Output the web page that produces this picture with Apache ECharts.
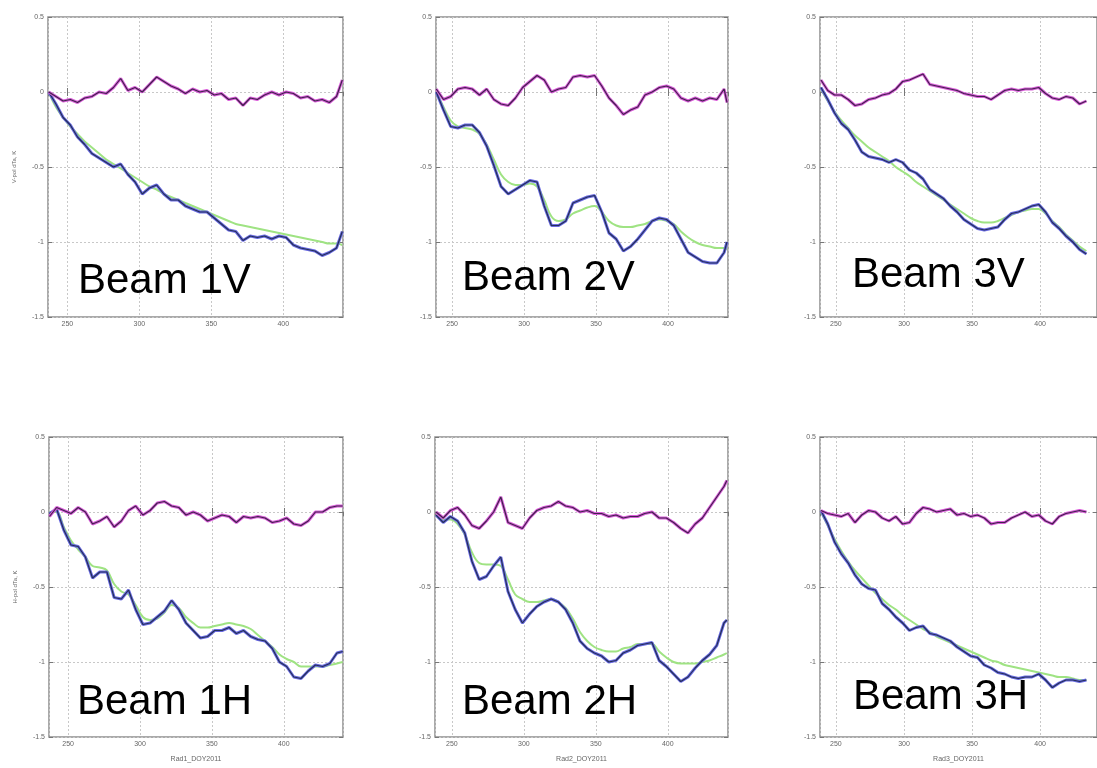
<!DOCTYPE html>
<html>
<head>
<meta charset="utf-8">
<title>Beam dTa</title>
<script src="https://cdn.jsdelivr.net/npm/echarts@6/dist/echarts.min.js"></script>
<style>
  html, body { margin: 0; padding: 0; background: #fff; }
  #chart { width: 1097px; height: 768px; }
</style>
</head>
<body>
<div id="chart"></div>
<script>
// days of year 2011 for each radiometer
const rad1Days = [237,242,247,252,257,262,267,272,277,282,287,292,297,302,307,312,317,322,327,332,337,342,347,352,357,362,367,372,377,382,387,392,397,402,407,412,417,422,427,432,437,441];
const rad2Days = [239,244,249,254,259,264,269,274,279,284,289,294,299,304,309,314,319,324,329,334,339,344,349,354,359,364,369,374,379,384,389,394,399,404,409,414,419,424,429,434,439,441];
const rad3Days = [239,244,249,254,259,264,269,274,279,284,289,294,299,304,309,314,319,324,329,334,339,344,349,354,359,364,369,374,379,384,389,394,399,404,409,414,419,424,429,434];

// residual (near zero), measured drift, fitted drift
const beam1VResid = [0.0,-0.03,-0.06,-0.05,-0.07,-0.04,-0.03,0.0,-0.01,0.03,0.09,0.01,0.03,0.0,0.05,0.1,0.07,0.04,0.02,-0.01,0.02,0.0,0.01,-0.02,-0.01,-0.05,-0.04,-0.09,-0.04,-0.05,-0.02,0.0,-0.02,0.0,-0.01,-0.04,-0.03,-0.06,-0.05,-0.07,-0.03,0.08];
const beam1VObs = [0.0,-0.08,-0.17,-0.22,-0.3,-0.35,-0.41,-0.44,-0.47,-0.5,-0.48,-0.55,-0.6,-0.68,-0.64,-0.62,-0.68,-0.72,-0.72,-0.76,-0.78,-0.8,-0.8,-0.84,-0.88,-0.92,-0.93,-0.99,-0.96,-0.97,-0.96,-0.98,-0.96,-0.97,-1.02,-1.04,-1.05,-1.06,-1.09,-1.07,-1.04,-0.93];
const beam1VFit = [0.0,-0.1,-0.17,-0.23,-0.28,-0.33,-0.37,-0.41,-0.45,-0.48,-0.51,-0.54,-0.57,-0.6,-0.63,-0.65,-0.68,-0.7,-0.72,-0.74,-0.76,-0.78,-0.8,-0.82,-0.84,-0.86,-0.88,-0.89,-0.9,-0.91,-0.92,-0.93,-0.94,-0.95,-0.96,-0.97,-0.98,-0.99,-1.0,-1.01,-1.01,-1.02];

const beam2VResid = [0.02,-0.05,-0.03,0.02,0.03,0.02,-0.02,0.02,-0.05,-0.08,-0.09,-0.04,0.03,0.07,0.11,0.08,0.0,0.02,0.03,0.1,0.11,0.1,0.11,0.04,-0.04,-0.09,-0.15,-0.12,-0.1,-0.02,0.0,0.03,0.04,0.02,-0.04,-0.06,-0.04,-0.06,-0.04,-0.05,0.02,-0.07];
const beam2VObs = [0.0,-0.12,-0.23,-0.24,-0.22,-0.22,-0.27,-0.36,-0.49,-0.63,-0.68,-0.65,-0.62,-0.59,-0.6,-0.76,-0.89,-0.89,-0.86,-0.74,-0.72,-0.7,-0.69,-0.8,-0.94,-0.98,-1.06,-1.03,-0.98,-0.92,-0.86,-0.84,-0.85,-0.89,-0.98,-1.07,-1.1,-1.13,-1.14,-1.14,-1.07,-1.0];
const beam2VFit = [0.0,-0.1,-0.19,-0.23,-0.24,-0.25,-0.28,-0.35,-0.45,-0.55,-0.6,-0.62,-0.62,-0.61,-0.63,-0.72,-0.83,-0.86,-0.85,-0.81,-0.79,-0.77,-0.76,-0.8,-0.86,-0.89,-0.9,-0.9,-0.89,-0.88,-0.86,-0.85,-0.86,-0.88,-0.93,-0.97,-1.0,-1.02,-1.03,-1.04,-1.04,-1.05];

const beam3VResid = [0.08,0.01,-0.02,-0.02,-0.05,-0.09,-0.08,-0.05,-0.04,-0.02,-0.01,0.02,0.07,0.08,0.1,0.12,0.05,0.04,0.03,0.02,0.01,-0.01,-0.02,-0.03,-0.03,-0.05,-0.02,0.01,0.02,0.01,0.02,0.02,0.03,-0.01,-0.04,-0.05,-0.03,-0.04,-0.08,-0.06];
const beam3VObs = [0.03,-0.05,-0.14,-0.21,-0.25,-0.32,-0.4,-0.43,-0.44,-0.45,-0.47,-0.45,-0.47,-0.52,-0.54,-0.58,-0.65,-0.68,-0.71,-0.76,-0.8,-0.85,-0.88,-0.91,-0.92,-0.91,-0.9,-0.85,-0.81,-0.8,-0.78,-0.76,-0.75,-0.8,-0.87,-0.91,-0.96,-1.0,-1.05,-1.08];
const beam3VFit = [0.02,-0.06,-0.13,-0.19,-0.24,-0.29,-0.33,-0.37,-0.4,-0.43,-0.46,-0.5,-0.53,-0.56,-0.6,-0.63,-0.66,-0.69,-0.72,-0.75,-0.78,-0.81,-0.84,-0.86,-0.87,-0.87,-0.86,-0.84,-0.82,-0.8,-0.79,-0.78,-0.78,-0.81,-0.86,-0.9,-0.95,-0.99,-1.03,-1.06];

const beam1HResid = [-0.03,0.03,0.01,-0.01,0.03,0.0,-0.08,-0.06,-0.03,-0.1,-0.06,0.01,0.04,-0.02,0.01,0.06,0.07,0.04,0.03,-0.02,0.0,-0.02,-0.06,-0.04,-0.02,-0.03,-0.07,-0.03,-0.04,-0.03,-0.04,-0.07,-0.06,-0.04,-0.08,-0.09,-0.06,0.0,0.0,0.03,0.04,0.04];
const beam1HObs = [-0.01,0.02,-0.12,-0.22,-0.23,-0.3,-0.44,-0.4,-0.4,-0.57,-0.58,-0.52,-0.65,-0.75,-0.74,-0.7,-0.66,-0.59,-0.65,-0.74,-0.79,-0.84,-0.83,-0.79,-0.79,-0.77,-0.81,-0.79,-0.83,-0.85,-0.86,-0.91,-1.0,-1.03,-1.1,-1.11,-1.06,-1.02,-1.03,-1.01,-0.94,-0.93];
const beam1HFit = [0.0,0.0,-0.1,-0.19,-0.25,-0.3,-0.36,-0.37,-0.39,-0.48,-0.53,-0.55,-0.62,-0.7,-0.72,-0.71,-0.67,-0.62,-0.64,-0.7,-0.74,-0.77,-0.77,-0.76,-0.75,-0.74,-0.75,-0.76,-0.78,-0.82,-0.86,-0.9,-0.95,-0.98,-1.0,-1.03,-1.03,-1.03,-1.03,-1.02,-1.01,-1.0];

const beam2HResid = [0.0,-0.04,0.01,0.03,-0.02,-0.09,-0.11,-0.06,0.0,0.1,-0.07,-0.09,-0.11,-0.04,0.01,0.03,0.04,0.07,0.04,0.03,0.0,0.01,-0.01,-0.01,-0.03,-0.02,-0.04,-0.03,-0.03,-0.01,0.0,-0.04,-0.04,-0.07,-0.11,-0.14,-0.08,-0.04,0.03,0.1,0.17,0.21];
const beam2HObs = [-0.02,-0.07,-0.03,-0.06,-0.14,-0.33,-0.45,-0.43,-0.36,-0.3,-0.53,-0.65,-0.74,-0.68,-0.63,-0.6,-0.58,-0.6,-0.65,-0.74,-0.86,-0.91,-0.94,-0.96,-1.0,-0.99,-0.94,-0.92,-0.89,-0.88,-0.87,-0.99,-1.03,-1.08,-1.13,-1.1,-1.04,-0.99,-0.95,-0.89,-0.74,-0.72];
const beam2HFit = [-0.02,-0.05,-0.05,-0.08,-0.15,-0.27,-0.34,-0.35,-0.35,-0.36,-0.45,-0.55,-0.58,-0.6,-0.6,-0.59,-0.58,-0.6,-0.64,-0.71,-0.8,-0.86,-0.9,-0.92,-0.93,-0.93,-0.91,-0.9,-0.88,-0.88,-0.88,-0.93,-0.97,-1.0,-1.01,-1.01,-1.01,-1.0,-0.99,-0.97,-0.95,-0.94];

const beam3HResid = [0.01,-0.01,-0.02,-0.03,-0.01,-0.07,-0.02,0.01,0.0,-0.04,-0.06,-0.03,-0.08,-0.07,-0.01,0.03,0.02,0.0,0.01,0.02,-0.02,-0.01,-0.03,-0.02,-0.04,-0.08,-0.07,-0.07,-0.04,-0.02,0.0,-0.03,-0.02,-0.06,-0.08,-0.03,-0.01,0.0,0.01,0.0];
const beam3HObs = [0.01,-0.08,-0.2,-0.28,-0.34,-0.42,-0.48,-0.51,-0.52,-0.61,-0.65,-0.7,-0.74,-0.79,-0.77,-0.76,-0.81,-0.82,-0.84,-0.86,-0.9,-0.93,-0.96,-0.97,-1.02,-1.04,-1.07,-1.08,-1.1,-1.11,-1.1,-1.1,-1.08,-1.12,-1.17,-1.14,-1.12,-1.12,-1.13,-1.12];
const beam3HFit = [0.0,-0.09,-0.18,-0.26,-0.33,-0.39,-0.44,-0.49,-0.54,-0.58,-0.62,-0.65,-0.69,-0.72,-0.75,-0.78,-0.8,-0.83,-0.85,-0.87,-0.89,-0.91,-0.93,-0.95,-0.97,-0.99,-1.0,-1.02,-1.03,-1.04,-1.05,-1.06,-1.07,-1.08,-1.09,-1.1,-1.1,-1.11,-1.12,-1.12];

const yTicks = [0.5, 0, -0.5, -1, -1.5];

// panel layout: grid box [left, top, width, height], x range, label position
const panels = [
  { title: 'Beam 1V', days: rad1Days, resid: beam1VResid, obs: beam1VObs, fit: beam1VFit,
    box: [48, 17, 295, 300], xr: [236.5, 441.5], yName: 'V-pol dTa, K', xName: '', at: [78, 281] },
  { title: 'Beam 2V', days: rad2Days, resid: beam2VResid, obs: beam2VObs, fit: beam2VFit,
    box: [436, 17, 292, 300], xr: [238.8, 441.7], yName: '', xName: '', at: [462, 278] },
  { title: 'Beam 3V', days: rad3Days, resid: beam3VResid, obs: beam3VObs, fit: beam3VFit,
    box: [820, 17, 293, 300], xr: [238.3, 441.8], yName: '', xName: '', at: [852, 275] },
  { title: 'Beam 1H', days: rad1Days, resid: beam1HResid, obs: beam1HObs, fit: beam1HFit,
    box: [49, 437, 294, 300], xr: [236.7, 441.2], yName: 'H-pol dTa, K', xName: 'Rad1_DOY2011', at: [77, 702] },
  { title: 'Beam 2H', days: rad2Days, resid: beam2HResid, obs: beam2HObs, fit: beam2HFit,
    box: [435, 437, 293, 300], xr: [238.3, 441.8], yName: '', xName: 'Rad2_DOY2011', at: [462, 702] },
  { title: 'Beam 3H', days: rad3Days, resid: beam3HResid, obs: beam3HObs, fit: beam3HFit,
    box: [820, 437, 293, 300], xr: [238.3, 441.8], yName: '', xName: 'Rad3_DOY2011', at: [853, 697] }
];

function zip(xs, ys) {
  return xs.map((x, i) => [x, ys[i]]);
}

const grid = [], xAxis = [], yAxis = [], series = [], graphic = [];
const tickFont = { fontSize: 7, color: '#666', fontFamily: 'Liberation Sans' };
const tickStyle = { inside: true, length: 4, lineStyle: { color: '#777' } };
const dotted = { show: true, lineStyle: { color: '#c8c8c8', type: [2, 2], width: 1 } };

panels.forEach((p, i) => {
  grid.push({
    left: p.box[0], top: p.box[1], width: p.box[2], height: p.box[3],
    show: true, borderColor: '#8f8f8f', borderWidth: 1.5, backgroundColor: '#fff'
  });

  xAxis.push({
    type: 'value', gridIndex: i, position: 'bottom', min: p.xr[0], max: p.xr[1], splitNumber: 4,
    name: p.xName, nameLocation: 'middle', nameGap: 19,
    nameTextStyle: { fontSize: 7, color: '#666', fontFamily: 'Liberation Sans' },
    axisLine: { show: false },
    axisTick: tickStyle,
    axisLabel: Object.assign({ margin: 4, showMinLabel: false, showMaxLabel: false }, tickFont),
    splitLine: dotted
  });
  xAxis.push({
    type: 'value', gridIndex: i, position: 'top', min: p.xr[0], max: p.xr[1], splitNumber: 4,
    axisLine: { show: false }, axisTick: tickStyle,
    axisLabel: { show: false }, splitLine: { show: false }
  });

  yAxis.push({
    type: 'value', gridIndex: i, position: 'left', min: -1.5, max: 0.5, interval: 0.5,
    name: p.yName, nameLocation: 'middle', nameGap: 31, nameRotate: 90,
    nameTextStyle: { fontSize: 6, color: '#666', fontFamily: 'Liberation Sans' },
    axisLine: { show: false }, axisTick: tickStyle,
    axisLabel: Object.assign({ margin: 4, formatter: v => yTicks.includes(v) ? String(v) : '' }, tickFont),
    splitLine: dotted
  });
  yAxis.push({
    type: 'value', gridIndex: i, position: 'right', min: -1.5, max: 0.5, interval: 0.5,
    axisLine: { show: false }, axisTick: tickStyle,
    axisLabel: { show: false }, splitLine: { show: false }
  });

  const base = { type: 'line', xAxisIndex: i * 2, yAxisIndex: i * 2, showSymbol: false, silent: true, clip: true };

  series.push(Object.assign({}, base, {
    name: p.title + ' fit', data: zip(p.days, p.fit), smooth: 0.4,
    lineStyle: { color: '#9fe383', width: 2 }
  }));
  series.push(Object.assign({}, base, {
    name: p.title + ' drift', data: zip(p.days, p.obs),
    lineStyle: { color: '#6a6ae2', width: 3 }
  }));
  series.push(Object.assign({}, base, {
    name: p.title + ' drift core', data: zip(p.days, p.obs),
    lineStyle: { color: '#243058', width: 1.2 }
  }));
  series.push(Object.assign({}, base, {
    name: p.title + ' residual', data: zip(p.days, p.resid),
    lineStyle: { color: '#da5cda', width: 3 }
  }));
  series.push(Object.assign({}, base, {
    name: p.title + ' residual core', data: zip(p.days, p.resid),
    lineStyle: { color: '#40244c', width: 1.2 }
  }));

  graphic.push({
    type: 'text', x: p.at[0], y: p.at[1], z: 100,
    style: { text: p.title, font: '42px "Liberation Sans", Arial, sans-serif', fill: '#000',
             align: 'left', verticalAlign: 'middle' }
  });
});

const chart = echarts.init(document.getElementById('chart'), null, { renderer: 'canvas' });
chart.setOption({
  animation: false,
  backgroundColor: '#fff',
  grid: grid,
  xAxis: xAxis,
  yAxis: yAxis,
  series: series,
  graphic: graphic
});
</script>
</body>
</html>
